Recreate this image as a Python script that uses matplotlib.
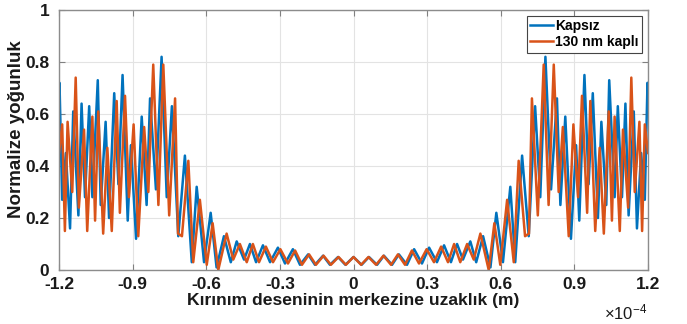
import matplotlib
matplotlib.use('Agg')
import matplotlib.pyplot as plt

# x in units of 1e-4 m, vertices
x_kapsiz = [-1.200, -1.198, -1.187, -1.172, -1.155, -1.142, -1.121, -1.108, -1.094, -1.077,
            -1.064, -1.042, -1.030, -1.010, -0.996, -0.975, -0.958, -0.941, -0.920, -0.907,
            -0.886, -0.863, -0.843, -0.829, -0.805, -0.782, -0.761, -0.740, -0.714, -0.687,
            -0.659, -0.639, -0.609, -0.582, -0.558, -0.528, -0.500, -0.476, -0.446, -0.422,
            -0.397, -0.369, -0.340, -0.308, -0.279, -0.247, -0.218, -0.185, -0.157, -0.124,
            -0.096, -0.063, -0.033, 0.000,
            0.033, 0.063, 0.096, 0.124, 0.157, 0.185, 0.218, 0.247, 0.279, 0.308,
            0.340, 0.369, 0.397, 0.422, 0.446, 0.476, 0.500, 0.528, 0.558, 0.582,
            0.609, 0.639, 0.659, 0.687, 0.714, 0.740, 0.761, 0.782, 0.805, 0.829,
            0.843, 0.863, 0.886, 0.907, 0.920, 0.941, 0.958, 0.975, 0.996, 1.010,
            1.030, 1.042, 1.064, 1.077, 1.094, 1.108, 1.121, 1.142, 1.155, 1.172,
            1.187, 1.198, 1.200]
y_kapsiz = [0.65, 0.72, 0.27, 0.45, 0.16, 0.61, 0.21, 0.64, 0.28, 0.63,
            0.28, 0.73, 0.25, 0.57, 0.20, 0.68, 0.33, 0.75, 0.19, 0.48,
            0.12, 0.59, 0.25, 0.66, 0.31, 0.82, 0.28, 0.63, 0.13, 0.44,
            0.03, 0.32, 0.03, 0.22, 0.01, 0.13, 0.03, 0.11, 0.04, 0.10,
            0.03, 0.095, 0.03, 0.086, 0.025, 0.08, 0.02, 0.06, 0.02, 0.055,
            0.02, 0.05, 0.02, 0.05,
            0.02, 0.05, 0.02, 0.055, 0.02, 0.06, 0.02, 0.08, 0.025, 0.086,
            0.03, 0.095, 0.03, 0.10, 0.04, 0.11, 0.03, 0.13, 0.01, 0.22,
            0.03, 0.32, 0.03, 0.44, 0.13, 0.63, 0.28, 0.82, 0.31, 0.66,
            0.25, 0.59, 0.12, 0.48, 0.19, 0.75, 0.33, 0.68, 0.20, 0.57,
            0.25, 0.73, 0.28, 0.63, 0.28, 0.64, 0.21, 0.61, 0.16, 0.45,
            0.27, 0.72, 0.65]

x_kapli = [-1.200, -1.187, -1.176, -1.165, -1.146, -1.132, -1.119, -1.098, -1.085, -1.064,
           -1.053, -1.040, -1.020, -1.003, -0.985, -0.965, -0.952, -0.931, -0.915, -0.896,
           -0.877, -0.853, -0.836, -0.816, -0.795, -0.775, -0.751, -0.727, -0.715, -0.699,
           -0.673, -0.653, -0.626, -0.598, -0.574, -0.551, -0.517, -0.490, -0.463, -0.435,
           -0.410, -0.385, -0.357, -0.328, -0.298, -0.267, -0.238, -0.210, -0.181, -0.153,
           -0.122, -0.092, -0.061, -0.031, 0.000,
           0.031, 0.061, 0.092, 0.122, 0.153, 0.181, 0.210, 0.238, 0.267, 0.298,
           0.328, 0.357, 0.385, 0.410, 0.435, 0.463, 0.490, 0.517, 0.551, 0.574,
           0.598, 0.626, 0.653, 0.673, 0.699, 0.715, 0.727, 0.751, 0.775, 0.795,
           0.816, 0.836, 0.853, 0.877, 0.896, 0.915, 0.931, 0.952, 0.965, 0.985,
           1.003, 1.020, 1.040, 1.053, 1.064, 1.085, 1.098, 1.119, 1.132, 1.146,
           1.165, 1.176, 1.187, 1.200]
y_kapli = [0.45, 0.56, 0.15, 0.57, 0.30, 0.74, 0.24, 0.54, 0.15, 0.59,
           0.19, 0.61, 0.14, 0.47, 0.15, 0.65, 0.22, 0.67, 0.28, 0.56,
           0.13, 0.55, 0.30, 0.79, 0.25, 0.79, 0.21, 0.66, 0.14, 0.13,
           0.42, 0.03, 0.27, 0.02, 0.18, 0.00, 0.14, 0.04, 0.10, 0.03,
           0.10, 0.03, 0.09, 0.03, 0.08, 0.025, 0.075, 0.02, 0.06, 0.02,
           0.055, 0.02, 0.05, 0.02, 0.05,
           0.02, 0.05, 0.02, 0.055, 0.02, 0.06, 0.02, 0.075, 0.025, 0.08,
           0.03, 0.09, 0.03, 0.10, 0.03, 0.10, 0.04, 0.14, 0.00, 0.18,
           0.02, 0.27, 0.03, 0.42, 0.13, 0.14, 0.66, 0.21, 0.79, 0.25,
           0.79, 0.30, 0.55, 0.13, 0.56, 0.28, 0.67, 0.22, 0.65, 0.15,
           0.47, 0.14, 0.61, 0.19, 0.59, 0.15, 0.54, 0.24, 0.74, 0.30,
           0.57, 0.15, 0.56, 0.45]

xticks = [-1.2, -0.9, -0.6, -0.3, 0, 0.3, 0.6, 0.9, 1.2]
xtick_labels = ['-1.2', '-0.9', '-0.6', '-0.3', '0', '0.3', '0.6', '0.9', '1.2']
yticks = [0, 0.2, 0.4, 0.6, 0.8, 1]
ytick_labels = ['0', '0.2', '0.4', '0.6', '0.8', '1']

plt.rcParams['font.family'] = ['Liberation Sans', 'DejaVu Sans']
plt.rcParams['mathtext.default'] = 'regular'

fig = plt.figure(figsize=(6.87, 3.24), dpi=100)
ax = fig.add_axes([59/687, 54/324, 589/687, 260/324])

ax.plot(x_kapsiz, y_kapsiz, color='#0072BD', lw=1.8, label='Kapsız')
ax.plot(x_kapli, y_kapli, color='#D95319', lw=1.8, label='130 nm kaplı')

ax.set_xlim(-1.2, 1.2)
ax.set_ylim(0, 1)
ax.set_xticks(xticks)
ax.set_xticklabels(xtick_labels, fontweight='bold', fontsize=12.5)
ax.set_yticks(yticks)
ax.set_yticklabels(ytick_labels, fontweight='bold', fontsize=12.5)
ax.tick_params(direction='in', length=4, color='#808080', labelcolor='#1a1a1a',
               top=True, right=True)
ax.tick_params(axis='x', pad=5)
ax.tick_params(axis='y', pad=7)
for s in ['top', 'bottom', 'left', 'right']:
    ax.spines[s].set_color('#8c8c8c')
    ax.spines[s].set_linewidth(1.0)
ax.grid(True, color='#e3e3e3', linewidth=0.8)
ax.set_axisbelow(True)

ax.set_xlabel('Kırınım deseninin merkezine uzaklık (m)', fontweight='bold',
              fontsize=12.6, color='#1a1a1a', labelpad=1)
ax.set_ylabel('Normalize yoğunluk', fontweight='bold', fontsize=13.5,
              color='#1a1a1a')
ax.yaxis.set_label_coords(-0.057, 0.54)

leg = ax.legend(loc='upper right', prop={'weight': 'bold', 'size': 10},
                handlelength=1.6, handletextpad=0.2, borderpad=0.25,
                labelspacing=0.15, fancybox=False, framealpha=1,
                borderaxespad=0.4)
leg.get_frame().set_edgecolor('#444444')
leg.get_frame().set_linewidth(0.8)

fig.text(604/687, 1 - 319/324, '×10$^{-4}$', fontsize=12, color='#1a1a1a')

fig.savefig('out.png', dpi=100)
